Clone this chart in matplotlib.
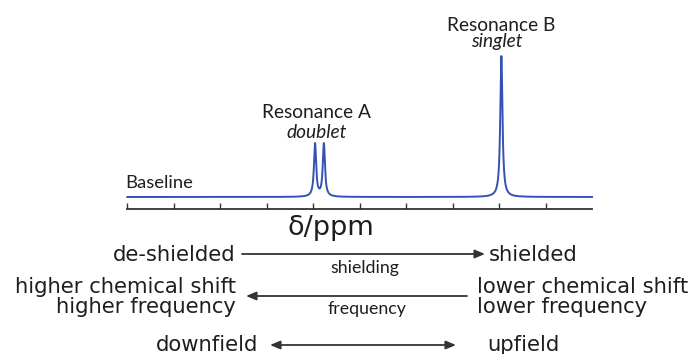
import matplotlib.pyplot as plt
import numpy as np

# peak positions (ppm), relative heights and half width (ppm)
peak_ppm = [5.96, 5.77, 1.95]
peak_height = [0.375, 0.375, 1.0]
half_width = 0.028
ppm_ticks = [10, 9, 8, 7, 6, 5, 4, 3, 2, 1]

resonance_names = ["Resonance A", "Resonance B"]
resonance_kinds = ["doublet", "singlet"]

left_labels = ["de-shielded", "higher chemical shift\nhigher frequency", "downfield"]
right_labels = ["shielded", "lower chemical shift\nlower frequency", "upfield"]
arrow_names = ["shielding", "frequency"]

W, H = 692, 354
fig = plt.figure(figsize=(W / 100, H / 100), dpi=100)

# overlay in pixel coordinates for text and arrows
ov = fig.add_axes([0, 0, 1, 1])
ov.set_xlim(0, W)
ov.set_ylim(H, 0)
ov.axis("off")

# spectrum axes: ppm 10 -> 0 spans x 127..592, bottom spine at y=209
x0, x1 = 127.3, 592
y_bot, y_top = 209, 56
sp = fig.add_axes([x0 / W, (H - y_bot) / H, (x1 - x0) / W, (y_bot - y_top) / H])
sp.patch.set_alpha(0)

ppm = np.linspace(10, 0, 6000)
spec = np.zeros_like(ppm)
for p, h in zip(peak_ppm, peak_height):
    spec += h / (1 + ((ppm - p) / half_width) ** 2)
sp.plot(ppm, spec, color="#3552b2", lw=1.4, clip_on=False)

sp.set_xlim(10, 0)
sp.set_ylim(-12 / 141, 1.0)
for s in ["top", "left", "right"]:
    sp.spines[s].set_visible(False)
sp.spines["bottom"].set_color("#333333")
sp.spines["bottom"].set_linewidth(1.3)
sp.set_xticks(ppm_ticks)
sp.set_xticklabels([])
sp.set_yticks([])
sp.tick_params(axis="x", direction="in", length=4.5, width=1.0, color="#333333")

label_font = "Lato"
txt = "#1e1e1e"
rs = 13.8

# peak labels
ov.text(316, 118, resonance_names[0], ha="center", va="baseline",
        fontsize=rs, family=label_font, color=txt)
ov.text(317, 138, resonance_kinds[0], ha="center", va="baseline",
        fontsize=rs, family=label_font, style="italic", color=txt)
ov.text(501, 31, resonance_names[1], ha="center", va="baseline",
        fontsize=rs, family=label_font, color=txt)
ov.text(497, 47, resonance_kinds[1], ha="center", va="baseline",
        fontsize=rs, family=label_font, style="italic", color=txt)
ov.text(125, 188, "Baseline", ha="left", va="baseline",
        fontsize=13.3, family=label_font, color=txt)

ov.text(331, 235, "δ/ppm", ha="center", va="baseline", fontsize=19.5,
        family="DejaVu Sans", color=txt)

# direction conventions
fs = 15.2
ov.text(235, 261, left_labels[0], ha="right", va="baseline", fontsize=fs, color=txt)
ov.text(236, 313, left_labels[1], ha="right", va="baseline", fontsize=fs,
        color=txt, multialignment="right", linespacing=1.0)
ov.text(258, 351, left_labels[2], ha="right", va="baseline", fontsize=fs, color=txt)

ov.text(489, 261, right_labels[0], ha="left", va="baseline", fontsize=fs, color=txt)
ov.text(477, 313, right_labels[1], ha="left", va="baseline", fontsize=fs,
        color=txt, multialignment="left", linespacing=1.0)
ov.text(487, 351, right_labels[2], ha="left", va="baseline", fontsize=fs, color=txt)

ov.text(365, 273, arrow_names[0], ha="center", va="baseline", fontsize=12.8,
        family=label_font, color=txt)
ov.text(367, 314, arrow_names[1], ha="center", va="baseline", fontsize=12.8,
        family=label_font, color=txt)

arrow_kw = dict(color="#333333", lw=1.3, shrinkA=0, shrinkB=0)
ov.annotate("", xy=(485, 254), xytext=(242, 254),
            arrowprops=dict(arrowstyle="-|>,head_length=0.6,head_width=0.25", **arrow_kw))
ov.annotate("", xy=(246, 296), xytext=(467, 296),
            arrowprops=dict(arrowstyle="-|>,head_length=0.6,head_width=0.25", **arrow_kw))
ov.annotate("", xy=(456, 345), xytext=(270, 345),
            arrowprops=dict(arrowstyle="<|-|>,head_length=0.6,head_width=0.25", **arrow_kw))

fig.savefig("out.png", dpi=100)
